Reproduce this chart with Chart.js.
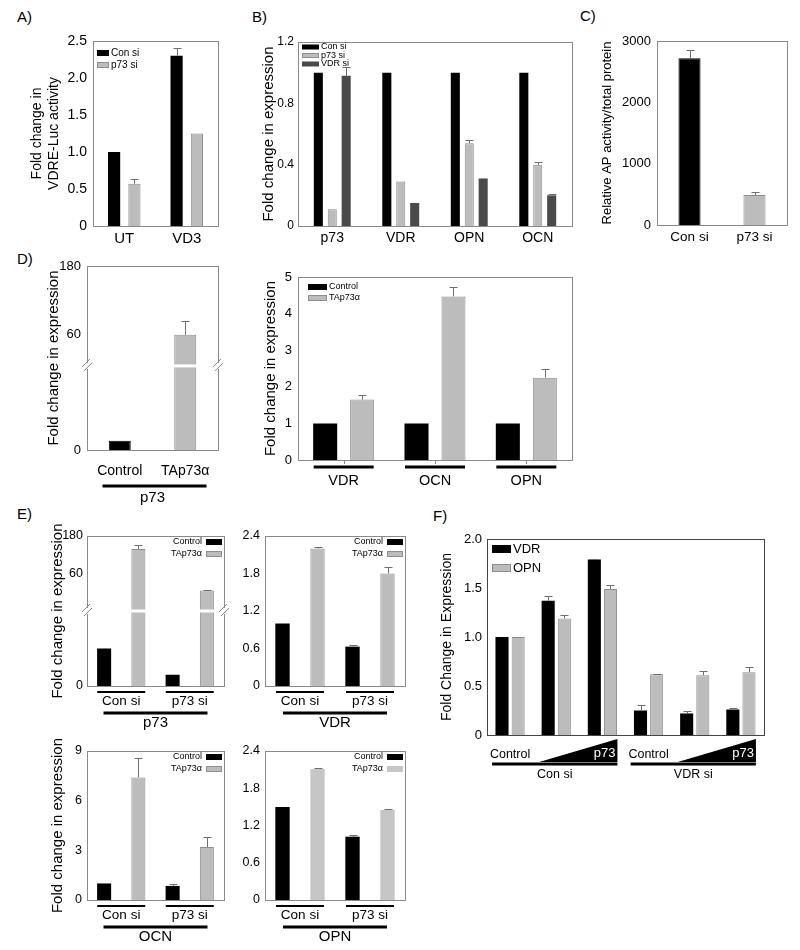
<!DOCTYPE html>
<html>
<head>
<meta charset="utf-8">
<script src="https://cdn.jsdelivr.net/npm/chart.js@4.4.1/dist/chart.umd.min.js"></script>
<style>
  html, body { margin: 0; padding: 0; background: #fff; }
  #wrap { position: relative; width: 800px; height: 950px; overflow: hidden; }
  #wrap canvas { position: absolute; left: 0; top: 0; }
  .tag { position: absolute; font: 15px 'Liberation Sans', Arial, sans-serif; color: #000; line-height: 15px; }
</style>
</head>
<body>
<div id="wrap">
  <div class="tag" style="left:17px;top:9px">A)</div>
  <div class="tag" style="left:252px;top:9px">B)</div>
  <div class="tag" style="left:580px;top:8px">C)</div>
  <div class="tag" style="left:17px;top:251px">D)</div>
  <div class="tag" style="left:17px;top:506px">E)</div>
  <div class="tag" style="left:433px;top:508px">F)</div>
</div>
<script>
// ----------------------------- les donnees ---------------------------------//
// A) VDRE-Luc
const aCategories = ['UT', 'VD3'];
const aSeries = ['Con si', 'p73 si'];
const aConSi = [1.0, 2.3];
const aConSiErr = [0, 0.1];
const aP73Si = [0.57, 1.25];
const aP73SiErr = [0.07, 0];
const aTicks = [0, 0.5, 1.0, 1.5, 2.0, 2.5];

// B) knockdown
const bCategories = ['p73', 'VDR', 'OPN', 'OCN'];
const bSeries = ['Con si', 'p73 si', 'VDR si'];
const bConSi = [1, 1, 1, 1];
const bP73Si = [0.11, 0.29, 0.54, 0.40];
const bP73SiErr = [0, 0, 0.02, 0.02];
const bVdrSi = [0.98, 0.15, 0.31, 0.20];
const bVdrSiErr = [0.06, 0, 0, 0.01];
const bTicks = [0, 0.4, 0.8, 1.2];

// C) AP activity
const cCategories = ['Con si', 'p73 si'];
const cValues = [2720, 490];
const cErr = [130, 40];
const cTicks = [0, 1000, 2000, 3000];

// D) left, p73 overexpression
const dpCategories = ['Control', 'TAp73α'];
const dpGroup = 'p73';
const dpValues = [1.1, 59];
const dpErr = [0, 24];
const dpTicks = [0, 60, 180];

// D) right, targets
const dgCategories = ['VDR', 'OCN', 'OPN'];
const dgSeries = ['Control', 'TAp73α'];
const dgControl = [1, 1, 1];
const dgTap73 = [1.65, 4.47, 2.25];
const dgTap73Err = [0.13, 0.27, 0.25];
const dgTicks = [0, 1, 2, 3, 4, 5];

// E) four small panels
const eCategories = ['Con si', 'p73 si'];
const eSeries = ['Control', 'TAp73α'];
const eP73Control = [1.0, 0.3];
const eP73Tap = [139, 42];
const eP73TapErr = [13, 1];
const eP73Ticks = [0, 60, 180];
const eVdrControl = [1.0, 0.63];
const eVdrControlErr = [0, 0.02];
const eVdrTap = [2.2, 1.8];
const eVdrTapErr = [0.03, 0.1];
const eVdrTicks = [0, 0.6, 1.2, 1.8, 2.4];
const eOcnControl = [1.0, 0.85];
const eOcnControlErr = [0, 0.1];
const eOcnTap = [7.4, 3.2];
const eOcnTapErr = [1.2, 0.6];
const eOcnTicks = [0, 3, 6, 9];
const eOpnControl = [1.5, 1.02];
const eOpnControlErr = [0, 0.02];
const eOpnTap = [2.11, 1.45];
const eOpnTapErr = [0.02, 0.01];
const eOpnTicks = [0, 0.6, 1.2, 1.8, 2.4];

// F) p73 dose
const fGroups = ['Con si', 'VDR si'];
const fDoses = ['Control', 'p73 low', 'p73 high'];
const fWedge = 'p73';
const fSeries = ['VDR', 'OPN'];
const fVdr = [1.0, 1.37, 1.79, 0.25, 0.22, 0.26];
const fVdrErr = [0, 0.05, 0.01, 0.06, 0.02, 0.02];
const fOpn = [1.0, 1.19, 1.49, 0.62, 0.61, 0.64];
const fOpnErr = [0, 0.03, 0.04, 0.005, 0.04, 0.05];
const fTicks = [0, 0.5, 1.0, 1.5, 2.0];
//---------------------------------------------------------------------------//

const FONT = "'Liberation Sans', Arial, sans-serif";
const BLACK = '#000000';
const GREY = '#bcbcbc';
const GREY_EDGE = '#8e8e8e';
const DARK = '#4a4a4a';

Chart.defaults.font.family = FONT;
Chart.defaults.color = '#000';

// axe coupe : [valeur, fraction de la hauteur]
const breaks = {
  dLeft: [[0, 0], [10, 0.457], [14, 0.457], [60, 0.63], [180, 1]],
  eP73: [[0, 0], [2, 0.5], [20, 0.5], [60, 0.747], [180, 1]]
};

class BrokenScale extends Chart.LinearScale {
  frac(v) {
    const a = breaks[this.chart.canvas.id];
    if (v <= a[0][0]) return a[0][1];
    for (let i = 1; i < a.length; i++) {
      if (v <= a[i][0]) {
        const v0 = a[i - 1][0], f0 = a[i - 1][1], v1 = a[i][0], f1 = a[i][1];
        return v1 === v0 ? f1 : f0 + (v - v0) / (v1 - v0) * (f1 - f0);
      }
    }
    return a[a.length - 1][1];
  }
  getPixelForValue(v) {
    return this.getPixelForDecimal(this.frac(v));
  }
  getValueForPixel(p) {
    const f = this.getDecimalForPixel(p);
    const a = breaks[this.chart.canvas.id];
    for (let i = 1; i < a.length; i++) {
      if (f <= a[i][1] && a[i][1] > a[i - 1][1]) {
        return a[i - 1][0] + (f - a[i - 1][1]) / (a[i][1] - a[i - 1][1]) * (a[i][0] - a[i - 1][0]);
      }
    }
    return a[a.length - 1][0];
  }
}
BrokenScale.id = 'broken';
BrokenScale.defaults = {};
Chart.register(BrokenScale);

const oneDec = v => (v === 0 ? '0' : v.toFixed(1));
const plain = v => String(v);

function drawText(ctx, s, x, y, size, align, color) {
  ctx.save();
  ctx.font = size + 'px ' + FONT;
  ctx.fillStyle = color || '#000';
  ctx.textAlign = align || 'center';
  ctx.textBaseline = 'middle';
  ctx.fillText(s, x, y);
  ctx.restore();
}

function hbar(ctx, x0, x1, y, h) {
  ctx.fillStyle = '#000';
  ctx.fillRect(x0, y - h / 2, x1 - x0, h);
}

function frame(chart, color) {
  const a = chart.chartArea, ctx = chart.ctx;
  ctx.save();
  ctx.strokeStyle = color || '#8a8a8a';
  ctx.lineWidth = 1;
  ctx.strokeRect(Math.round(a.left) + 0.5, Math.round(a.top) + 0.5, Math.round(a.right - a.left), Math.round(a.bottom - a.top));
  ctx.restore();
}

// legende : boite puis texte
function legendLeft(chart, x, y, dy, bw, bh, size) {
  const ctx = chart.ctx;
  chart.data.datasets.forEach((ds, i) => {
    const cy = y + i * dy;
    ctx.fillStyle = ds.backgroundColor;
    ctx.fillRect(x, cy - bh / 2, bw, bh);
    if (ds.borderWidth) {
      ctx.strokeStyle = ds.borderColor;
      ctx.lineWidth = 1;
      ctx.strokeRect(x + 0.5, cy - bh / 2 + 0.5, bw - 1, bh - 1);
    }
    drawText(ctx, ds.label, x + bw + 2, cy, size, 'left');
  });
}

// legende : texte puis boite
function legendRight(chart, xEnd, y, dy, bw, bh, size) {
  const ctx = chart.ctx;
  chart.data.datasets.forEach((ds, i) => {
    const cy = y + i * dy;
    drawText(ctx, ds.label, xEnd, cy, size, 'right');
    ctx.fillStyle = ds.backgroundColor;
    ctx.fillRect(xEnd + 4, cy - bh / 2, bw, bh);
    if (ds.borderWidth) {
      ctx.strokeStyle = ds.borderColor;
      ctx.lineWidth = 1;
      ctx.strokeRect(xEnd + 4.5, cy - bh / 2 + 0.5, bw - 1, bh - 1);
    }
  });
}

function breakMarks(chart) {
  const ctx = chart.ctx, a = chart.chartArea;
  const f = breaks[chart.canvas.id].find((p, i, arr) => i > 0 && p[1] === arr[i - 1][1])[1];
  const yb = chart.scales.y.getPixelForDecimal(f);
  ctx.save();
  ctx.fillStyle = '#fff';
  ctx.fillRect(a.left + 1, yb - 1.5, a.right - a.left - 2, 3);
  [a.left, a.right].forEach(x => {
    ctx.fillStyle = '#fff';
    ctx.fillRect(x - 3, yb - 3, 6, 6);
    ctx.strokeStyle = '#8a8a8a';
    ctx.lineWidth = 1;
    ctx.beginPath();
    ctx.moveTo(x - 5, yb + 1); ctx.lineTo(x + 3, yb - 7);
    ctx.moveTo(x - 3, yb + 5); ctx.lineTo(x + 5, yb - 3);
    ctx.stroke();
  });
  ctx.restore();
}

const errorPlugin = {
  id: 'errs',
  afterDatasetsDraw(chart) {
    const ctx = chart.ctx, y = chart.scales.y;
    chart.data.datasets.forEach((ds, i) => {
      if (!ds.errors) return;
      chart.getDatasetMeta(i).data.forEach((bar, j) => {
        const e = ds.errors[j];
        if (!e) return;
        const top = Math.round(y.getPixelForValue(ds.data[j] + e)) + 0.5;
        const x = Math.round(bar.x) + 0.5;
        const w = Math.min(4, bar.width / 2);
        ctx.save();
        ctx.strokeStyle = '#6e6e6e';
        ctx.lineWidth = 1;
        ctx.beginPath();
        ctx.moveTo(x, bar.y);
        ctx.lineTo(x, top);
        ctx.moveTo(x - w, top);
        ctx.lineTo(x + w, top);
        ctx.stroke();
        ctx.restore();
      });
    });
  }
};

function ds(label, data, color, edge, errors) {
  return {
    label: label,
    data: data,
    backgroundColor: color,
    borderColor: edge || color,
    borderWidth: edge ? 1 : 0,
    errors: errors
  };
}

function makeChart(id, box, cfg) {
  const canvas = document.createElement('canvas');
  canvas.id = id;
  canvas.width = 800;
  canvas.height = 950;
  document.getElementById('wrap').appendChild(canvas);
  return new Chart(canvas, {
    type: 'bar',
    data: { labels: cfg.labels, datasets: cfg.datasets },
    options: {
      responsive: false,
      animation: false,
      events: [],
      layout: { padding: { left: box.l - box.yw, top: box.t, right: 800 - box.r, bottom: 950 - box.b - box.xh } },
      plugins: { legend: { display: false }, tooltip: { enabled: false } },
      datasets: { bar: { categoryPercentage: cfg.cp, barPercentage: cfg.bp } },
      scales: {
        x: {
          display: cfg.xDisplay !== false,
          grid: { display: false, drawTicks: false },
          border: { display: false },
          ticks: { font: { size: cfg.xFont || 14 }, padding: cfg.xPad || 4, maxRotation: 0, autoSkip: false },
          afterFit: s => { s.height = box.xh; }
        },
        y: {
          type: cfg.yType || 'linear',
          min: cfg.ticks[0],
          max: cfg.ticks[cfg.ticks.length - 1],
          grid: { display: false, drawTicks: false },
          border: { display: false },
          ticks: { font: { size: cfg.yFont || 14 }, padding: cfg.yPad || 6, callback: cfg.fmt || plain },
          afterBuildTicks: s => { s.ticks = cfg.ticks.map(v => ({ value: v })); },
          afterFit: s => { s.width = box.yw; },
          title: {
            display: !!cfg.title,
            text: cfg.title,
            font: { size: cfg.titleFont || 14 },
            padding: { top: 4, bottom: 4 }
          }
        }
      }
    },
    plugins: [errorPlugin, {
      id: 'deco',
      afterDatasetsDraw(chart) {
        frame(chart, cfg.frameColor);
        if (cfg.yType === 'broken') breakMarks(chart);
        if (cfg.deco) cfg.deco(chart);
      }
    }]
  });
}

// ---------------------------------- A ------------------------------------//
makeChart('a', { l: 93, t: 41, r: 218, b: 226, yw: 68, xh: 30 }, {
  labels: aCategories,
  datasets: [
    ds(aSeries[0], aConSi, BLACK, null, aConSiErr),
    ds(aSeries[1], aP73Si, GREY, GREY_EDGE, aP73SiErr)
  ],
  cp: 0.65, bp: 0.6,
  ticks: aTicks, fmt: oneDec,
  title: ['Fold change in', 'VDRE-Luc activity'],
  xFont: 15, xPad: 4,
  deco: chart => legendLeft(chart, 97, 53, 12, 12, 6, 10)
});

// ---------------------------------- B ------------------------------------//
makeChart('b', { l: 298, t: 42, r: 572, b: 226, yw: 42, xh: 30 }, {
  labels: bCategories,
  datasets: [
    ds(bSeries[0], bConSi, BLACK),
    ds(bSeries[1], bP73Si, GREY, GREY_EDGE, bP73SiErr),
    ds(bSeries[2], bVdrSi, DARK, null, bVdrSiErr)
  ],
  cp: 0.61, bp: 0.65,
  ticks: bTicks, fmt: oneDec, yFont: 12, yPad: 4,
  title: 'Fold change in expression', titleFont: 15,
  xFont: 14, xPad: 4,
  deco: chart => legendLeft(chart, 302, 47, 8.5, 17, 5, 9)
});

// ---------------------------------- C ------------------------------------//
makeChart('c', { l: 657, t: 41, r: 787, b: 225, yw: 61, xh: 30 }, {
  labels: cCategories,
  datasets: [{
    label: 'AP',
    data: cValues,
    backgroundColor: [BLACK, GREY],
    borderColor: [BLACK, GREY_EDGE],
    borderWidth: 1,
    errors: cErr
  }],
  cp: 0.85, bp: 0.4,
  ticks: cTicks, yFont: 13,
  title: 'Relative AP activity/total protein', titleFont: 13,
  xFont: 13.5, xPad: 4
});

// -------------------------------- D gauche -------------------------------//
makeChart('dLeft', { l: 87, t: 266, r: 218, b: 450, yw: 46, xh: 60 }, {
  labels: dpCategories,
  datasets: [{
    label: dpGroup,
    data: dpValues,
    backgroundColor: [BLACK, GREY],
    borderColor: [BLACK, GREY_EDGE],
    borderWidth: 1,
    errors: dpErr
  }],
  cp: 0.85, bp: 0.395,
  yType: 'broken', ticks: dpTicks, yFont: 13,
  title: 'Fold change in expression', titleFont: 15,
  xFont: 14, xPad: 13,
  deco: chart => {
    const a = chart.chartArea, mid = (a.left + a.right) / 2;
    hbar(chart.ctx, mid - 50, mid + 54, a.bottom + 36, 3);
    drawText(chart.ctx, dpGroup, mid, a.bottom + 48, 15);
  }
});

// -------------------------------- D droite -------------------------------//
makeChart('dRight', { l: 298, t: 277, r: 572, b: 460, yw: 40, xh: 40 }, {
  labels: dgCategories,
  datasets: [
    ds(dgSeries[0], dgControl, BLACK),
    ds(dgSeries[1], dgTap73, GREY, GREY_EDGE, dgTap73Err)
  ],
  cp: 0.81, bp: 0.65,
  ticks: dgTicks, yFont: 13,
  title: 'Fold change in expression', titleFont: 15,
  xFont: 14.5, xPad: 12,
  deco: chart => {
    const ctx = chart.ctx, x = chart.scales.x, b = chart.chartArea.bottom;
    dgCategories.forEach((c, i) => {
      const cx = x.getPixelForValue(i);
      hbar(ctx, cx - 30, cx + 30, b + 7, 3);
      ctx.fillStyle = '#8a8a8a';
      ctx.fillRect(Math.round(cx), b, 1, 4);
    });
    legendLeft(chart, 308, chart.chartArea.top + 10, 11, 19, 6, 9);
  }
});

// ------------------------------------ E ----------------------------------//
function eDeco(group) {
  return chart => {
    const ctx = chart.ctx, x = chart.scales.x, a = chart.chartArea;
    eCategories.forEach((c, i) => {
      const cx = x.getPixelForValue(i);
      hbar(ctx, cx - 24, cx + 24, a.bottom + 6, 2);
    });
    const mid = (a.left + a.right) / 2;
    hbar(ctx, mid - 52, mid + 52, a.bottom + 27, 3);
    drawText(ctx, group, mid, a.bottom + 37, 15);
    legendRight(chart, a.right - 22, a.top + 6, 12, 16, 6, 9);
  };
}

makeChart('eP73', { l: 87, t: 536, r: 224, b: 686, yw: 42, xh: 50 }, {
  labels: eCategories,
  datasets: [
    ds(eSeries[0], eP73Control, BLACK),
    ds(eSeries[1], eP73Tap, GREY, GREY_EDGE, eP73TapErr)
  ],
  cp: 1.0, bp: 0.41,
  yType: 'broken', ticks: eP73Ticks, yFont: 12.5, yPad: 4,
  title: 'Fold change in expression', titleFont: 15,
  xFont: 13.5, xPad: 7,
  deco: eDeco('p73')
});

makeChart('eVdr', { l: 265, t: 536, r: 405, b: 686, yw: 40, xh: 50 }, {
  labels: eCategories,
  datasets: [
    ds(eSeries[0], eVdrControl, BLACK, null, eVdrControlErr),
    ds(eSeries[1], eVdrTap, GREY, GREY_EDGE, eVdrTapErr)
  ],
  cp: 1.0, bp: 0.41,
  ticks: eVdrTicks, fmt: oneDec, yFont: 12.5, yPad: 5,
  xFont: 13.5, xPad: 7,
  deco: eDeco('VDR')
});

makeChart('eOcn', { l: 87, t: 751, r: 224, b: 900, yw: 42, xh: 48 }, {
  labels: eCategories,
  datasets: [
    ds(eSeries[0], eOcnControl, BLACK, null, eOcnControlErr),
    ds(eSeries[1], eOcnTap, GREY, GREY_EDGE, eOcnTapErr)
  ],
  cp: 1.0, bp: 0.41,
  ticks: eOcnTicks, yFont: 12.5, yPad: 5,
  title: 'Fold change in expression', titleFont: 15,
  xFont: 13.5, xPad: 7,
  deco: eDeco('OCN')
});

makeChart('eOpn', { l: 265, t: 751, r: 405, b: 900, yw: 40, xh: 48 }, {
  labels: eCategories,
  datasets: [
    ds(eSeries[0], eOpnControl, BLACK, null, eOpnControlErr),
    ds(eSeries[1], eOpnTap, '#c6c6c6', null, eOpnTapErr)
  ],
  cp: 1.0, bp: 0.41,
  ticks: eOpnTicks, fmt: oneDec, yFont: 12.5, yPad: 5,
  xFont: 13.5, xPad: 7,
  deco: eDeco('OPN')
});

// ------------------------------------ F ----------------------------------//
const fLabels = [];
fGroups.forEach(g => fDoses.forEach(d => fLabels.push(g + ' ' + d)));

makeChart('f', { l: 487, t: 539, r: 764, b: 735, yw: 52, xh: 0 }, {
  labels: fLabels,
  datasets: [
    ds(fSeries[0], fVdr, BLACK, null, fVdrErr),
    ds(fSeries[1], fOpn, GREY, GREY_EDGE, fOpnErr)
  ],
  cp: 0.7, bp: 0.81,
  ticks: fTicks, fmt: oneDec, yFont: 13, yPad: 5,
  title: 'Fold Change in Expression', titleFont: 14,
  xDisplay: false,
  frameColor: '#444',
  deco: chart => {
    const ctx = chart.ctx, x = chart.scales.x, b = chart.chartArea.bottom;
    fGroups.forEach((g, gi) => {
      const c0 = x.getPixelForValue(gi * 3);
      const c1 = x.getPixelForValue(gi * 3 + 1);
      const c2 = x.getPixelForValue(gi * 3 + 2);
      drawText(ctx, fDoses[0], c0, b + 20, 12.5);
      ctx.fillStyle = '#000';
      ctx.beginPath();
      ctx.moveTo(c1 - 17, b + 27);
      ctx.lineTo(c2 + 15, b + 27);
      ctx.lineTo(c2 + 15, b + 4);
      ctx.closePath();
      ctx.fill();
      drawText(ctx, fWedge, c2 + 13, b + 18, 13, 'right', '#fff');
      hbar(ctx, c0 - 18, c2 + 15, b + 29, 3);
      drawText(ctx, g, (c0 - 18 + c2 + 15) / 2, b + 40, 12.5);
    });
    legendLeft(chart, 492, 549, 19, 19, 8, 13);
  }
});
</script>
</body>
</html>
